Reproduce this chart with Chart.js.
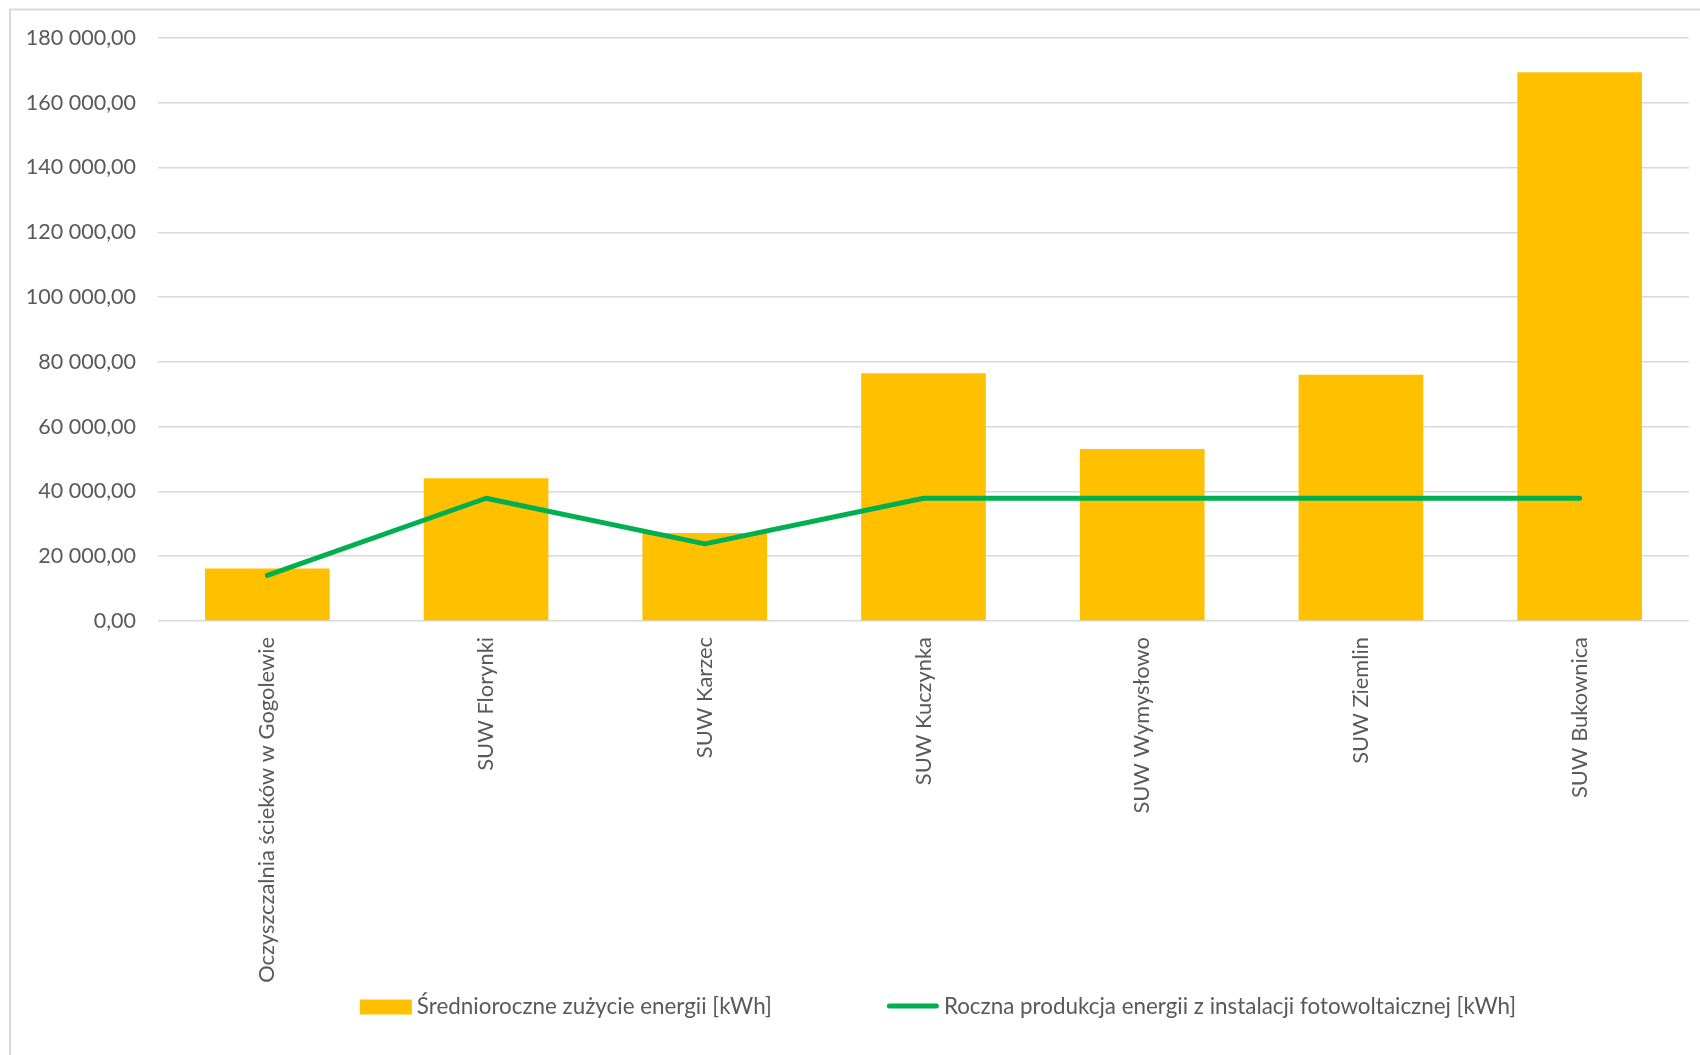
<!DOCTYPE html>
<html lang="pl">
<head>
<meta charset="utf-8">
<title>Zużycie i produkcja energii</title>
<script src="https://cdn.jsdelivr.net/npm/chart.js@4.4.1/dist/chart.umd.min.js"></script>
<style>
  html, body { margin: 0; padding: 0; background: #ffffff; }
  #wrap { width: 1700px; height: 1055px; position: relative; }
  canvas { display: block; }
</style>
</head>
<body>
<div id="wrap"><canvas id="chart" width="1700" height="1055"></canvas></div>
<script>
// Obiekty (kategorie osi X)
const categories = [
  'Oczyszczalnia ścieków w Gogolewie',
  'SUW Florynki',
  'SUW Karzec',
  'SUW Kuczynka',
  'SUW Wymysłowo',
  'SUW Ziemlin',
  'SUW Bukownica'
];

// Średnioroczne zużycie energii [kWh]
const consumption = [16200, 44100, 27200, 76500, 53100, 76000, 169400];

// Roczna produkcja energii z instalacji fotowoltaicznej [kWh]
const production = [14100, 37900, 23800, 37900, 37900, 37900, 37900];

const seriesNames = [
  'Średnioroczne zużycie energii [kWh]',
  'Roczna produkcja energii z instalacji fotowoltaicznej [kWh]'
];

// Wartości podziałki osi Y
const yTickValues = [0, 20000, 40000, 60000, 80000, 100000, 120000, 140000, 160000, 180000];

const FONT_FAMILY = 'Lato, "Open Sans", sans-serif';
const LEGEND_SIZE = 22.4;
const X_TICK_SIZE = 21.9;
const Y_TICK_SIZE = 21.5;
const TEXT_COLOR = '#595959';
const GRID_COLOR = '#d9d9d9';
const BAR_COLOR = '#FFC000';
const LINE_COLOR = '#00B050';

// "180 000,00" – separator tysięcy spacją, przecinek dziesiętny
function formatPl(v) {
  const parts = Number(v).toFixed(2).split('.');
  const intPart = parts[0].replace(/\B(?=(\d{3})+(?!\d))/g, ' ');
  return intPart + ',' + parts[1];
}

// Ramka obszaru wykresu (lewa i górna krawędź)
const framePlugin = {
  id: 'frame',
  beforeDraw(chart) {
    const ctx = chart.ctx;
    ctx.save();
    ctx.strokeStyle = GRID_COLOR;
    ctx.lineWidth = 2;
    ctx.beginPath();
    ctx.moveTo(10, chart.height);
    ctx.lineTo(10, 9.5);
    ctx.lineTo(chart.width, 9.5);
    ctx.stroke();
    ctx.restore();
  }
};

// Legenda pod wykresem: prostokąt dla słupków, odcinek dla linii
const legendPlugin = {
  id: 'bottomLegend',
  afterDraw(chart) {
    const ctx = chart.ctx;
    const ds = chart.data.datasets;
    ctx.save();
    ctx.font = LEGEND_SIZE + 'px ' + FONT_FAMILY;
    ctx.textBaseline = 'middle';
    ctx.textAlign = 'left';
    const y = 1007;
    const swatchW = 52;
    const textGap = 5;
    const itemGap = 115;
    const w0 = ctx.measureText(ds[0].label).width;
    const w1 = ctx.measureText(ds[1].label).width;
    const total = swatchW + textGap + w0 + itemGap + swatchW + textGap + w1;
    let x = 938 - total / 2;

    ctx.fillStyle = ds[0].backgroundColor;
    ctx.fillRect(x, y - 7.5, swatchW, 15);
    x += swatchW + textGap;
    ctx.fillStyle = TEXT_COLOR;
    ctx.fillText(ds[0].label, x, y);
    x += w0 + itemGap;

    ctx.strokeStyle = ds[1].borderColor;
    ctx.lineWidth = 5;
    ctx.lineCap = 'round';
    ctx.beginPath();
    ctx.moveTo(x + 2.5, y - 1);
    ctx.lineTo(x + swatchW - 2.5, y - 1);
    ctx.stroke();
    x += swatchW + textGap;
    ctx.fillText(ds[1].label, x, y);
    ctx.restore();
  }
};

Chart.defaults.font.family = FONT_FAMILY;
Chart.defaults.font.size = X_TICK_SIZE;
Chart.defaults.color = TEXT_COLOR;

new Chart(document.getElementById('chart'), {
  data: {
    labels: categories,
    datasets: [
      {
        type: 'bar',
        label: seriesNames[0],
        data: consumption,
        backgroundColor: BAR_COLOR,
        borderWidth: 0,
        barPercentage: 0.57,
        categoryPercentage: 1.0,
        order: 1
      },
      {
        type: 'line',
        label: seriesNames[1],
        data: production,
        borderColor: LINE_COLOR,
        backgroundColor: LINE_COLOR,
        borderWidth: 5,
        borderCapStyle: 'round',
        borderJoinStyle: 'round',
        pointRadius: 0,
        pointHoverRadius: 0,
        tension: 0,
        fill: false,
        order: 0
      }
    ]
  },
  options: {
    responsive: false,
    devicePixelRatio: 1,
    animation: false,
    events: [],
    layout: { padding: { left: 0, right: 11, top: 38, bottom: 54 } },
    plugins: {
      legend: { display: false },
      tooltip: { enabled: false },
      title: { display: false }
    },
    scales: {
      x: {
        grid: { display: false, drawTicks: false },
        border: { display: false },
        ticks: {
          autoSkip: false,
          minRotation: 90,
          maxRotation: 90,
          padding: 16,
          color: TEXT_COLOR,
          font: { size: X_TICK_SIZE, family: FONT_FAMILY }
        },
        afterFit(scale) { scale.height = 380; }
      },
      y: {
        min: 0,
        max: 180000,
        grid: { color: GRID_COLOR, lineWidth: 1.6, drawTicks: false },
        border: { display: false },
        ticks: {
          padding: 22,
          color: TEXT_COLOR,
          font: { size: Y_TICK_SIZE, family: FONT_FAMILY },
          callback: (v) => formatPl(v)
        },
        afterBuildTicks(scale) {
          scale.ticks = yTickValues.map(v => ({ value: v }));
        },
        afterFit(scale) { scale.width = 158; }
      }
    }
  },
  plugins: [framePlugin, legendPlugin]
});
</script>
</body>
</html>
